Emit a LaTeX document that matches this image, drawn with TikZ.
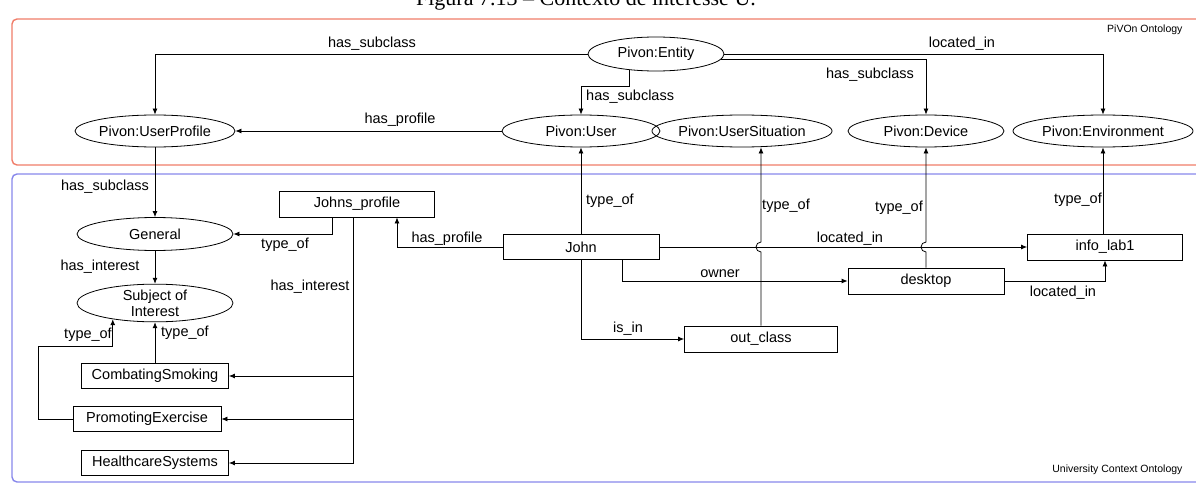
\documentclass[tikz,border=0pt]{standalone}
\usepackage{fontspec}
\setmainfont{Liberation Sans}
\newfontfamily\captionfont{Liberation Serif}
\usetikzlibrary{shapes.geometric,arrows.meta,calc}

\definecolor{ontoframe}{RGB}{240,125,105}
\definecolor{univframe}{RGB}{135,135,235}

\begin{document}
\begin{tikzpicture}[x=1pt,y=-1pt,
  every node/.style={font=\fontsize{14.5}{15}\selectfont},
  cls/.style={draw, ellipse, inner sep=0pt, line width=0.8pt},
  inst/.style={draw, rectangle, inner sep=0pt, line width=0.8pt},
  rel/.style={line width=0.8pt, -{Latex[length=6pt,width=5pt]}},
  lbl/.style={inner sep=1pt},
  frame/.style={line width=1.4pt, rounded corners=5pt},
  tag/.style={font=\fontsize{10.5}{12}\selectfont, anchor=east}
]
\useasboundingbox (0,0) rectangle (1196,484);
\clip (0,0) rectangle (1196,484);

% caption line above the figure
\node[anchor=base, font=\captionfont\fontsize{22}{24}\selectfont] (caption) at (586,6) {Figura 7.13 – Contexto de interesse U.};

% ontology frames
\draw[frame, draw=ontoframe] (12,19) rectangle (1215,165);
\draw[frame, draw=univframe] (12,174) rectangle (1215,482);
\node[tag] (pivonlbl) at (1186,30) {PiVOn Ontology};
\node[tag] (univlbl) at (1186,470) {University Context Ontology};

% PiVOn classes
\node[cls, minimum width=136, minimum height=34] (entity) at (656,54) {Pivon:Entity};
\node[cls, minimum width=160, minimum height=32] (userprofile) at (155,131) {Pivon:UserProfile};
\node[cls, minimum width=158, minimum height=32] (user) at (581,131) {Pivon:User};
\node[cls, minimum width=160, minimum height=32] (usersit) at (742,131) {Pivon:UserSituation};
\node[cls, minimum width=156, minimum height=32] (device) at (926,131) {Pivon:Device};
\node[cls, minimum width=180, minimum height=32] (environment) at (1103,131) {Pivon:Environment};

% university context classes and instances
\node[cls, minimum width=156, minimum height=33] (general) at (155,234) {General};
\node[cls, minimum width=156, minimum height=34, align=center, font=\fontsize{14.5}{16}\selectfont] (subject) at (155,303) {Subject of\\Interest};
\node[inst, minimum width=155, minimum height=26] (johnsprofile) at (357,204) {Johns\_profile};
\node[inst, minimum width=156, minimum height=25] (john) at (581,247) {John};
\node[inst, minimum width=153, minimum height=26] (outclass) at (761,339) {out\_class};
\node[inst, minimum width=156, minimum height=26] (desktop) at (926,281) {desktop};
\node[inst, minimum width=155, minimum height=26] (infolab) at (1105,247) {info\_lab1};
\node[inst, minimum width=147, minimum height=25] (combating) at (155,376) {CombatingSmoking};
\node[inst, minimum width=148, minimum height=25] (promoting) at (147,419) {PromotingExercise};
\node[inst, minimum width=147, minimum height=25] (healthcare) at (155,463) {HealthcareSystems};

% PiVOn relations
\draw[rel] (entity.west) -| (userprofile.north);
\node[lbl] (l1) at (372,44) {has\_subclass};
\draw[rel] (entity.east) -| (environment.north);
\node[lbl] (l2) at (962,44) {located\_in};
\draw[rel] (entity.-5.4) -| (device.north);
\node[lbl] (l3) at (870,75) {has\_subclass};
\draw[rel] (entity.211) -- ++(0,16) -| (user.north);
\node[lbl, anchor=west] (l4) at (585,97) {has\_subclass};
\draw[rel] (user.west) -- (userprofile.east);
\node[lbl] (l5) at (400,120) {has\_profile};

% profile hierarchy
\draw[rel] (userprofile.south) -- (general.north);
\node[lbl] (l6) at (105,187) {has\_subclass};
\draw[rel] (general.south) -- (subject.north);
\node[lbl] (l7) at (100,267) {has\_interest};
\draw[rel] ([xshift=-25pt]johnsprofile.south) |- (general.east);
\node[lbl] (l8) at (285,245) {type\_of};
\draw[rel] (john.west) -| ([xshift=40pt]johnsprofile.south);
\node[lbl] (l9) at (447,239) {has\_profile};

% interests of the profile
\coordinate (trunk) at ([xshift=-4pt]johnsprofile.south);
\draw[rel] (trunk) |- (healthcare.east);
\draw[rel] (combating.east -| trunk) -- (combating.east);
\draw[rel] (promoting.east -| trunk) -- (promoting.east);
\node[lbl] (l10) at (310,287) {has\_interest};
\draw[rel] (combating.north) -- (subject.south);
\node[lbl, anchor=west] (l11) at (160,333) {type\_of};
\draw[rel] (promoting.west) -- ++(-34,0) -- ++(0,-73) -| (subject.201.3);
\node[lbl] (l12) at (88,335) {type\_of};

% John and his context
\draw[rel] (john.north) -- (user.south);
\node[lbl, anchor=west] (l13) at (585,201) {type\_of};
\draw[rel] (john.east) -- (infolab.west);
\node[lbl] (l14) at (850,239) {located\_in};
\draw[rel] ([xshift=41pt]john.south) |- (desktop.west);
\node[lbl] (l15) at (720,274) {owner};
\draw[rel] (john.south) |- (outclass.west);
\node[lbl] (l16) at (628,329) {is\_in};

% type_of links hopping over located_in
\draw[rel] (outclass.north) -- ($(outclass.north |- john.east)+(0,5)$)
  arc[start angle=90, end angle=270, radius=5] -- (outclass.north |- usersit.south);
\node[lbl] (l17) at (786,206) {type\_of};
\draw[rel] (desktop.north) -- ($(desktop.north |- john.east)+(0,5)$)
  arc[start angle=90, end angle=270, radius=5] -- (device.south);
\node[lbl] (l18) at (899,208) {type\_of};
\draw[rel] (environment.south |- infolab.north) -- (environment.south);
\node[lbl] (l19) at (1078,200) {type\_of};
\draw[rel] (desktop.east) -| (infolab.south);
\node[lbl] (l20) at (1063,293) {located\_in};
\end{tikzpicture}
\end{document}
